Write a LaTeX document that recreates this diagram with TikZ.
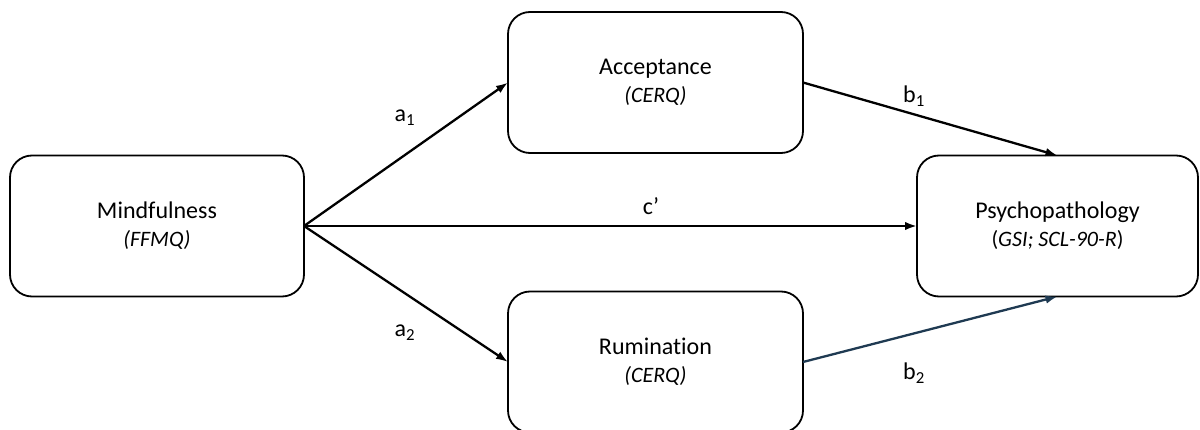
\documentclass[tikz,border=0pt]{standalone}
\usepackage{fontspec}
\setmainfont{Carlito}[Ligatures=NoCommon]
\usetikzlibrary{arrows.meta}
\definecolor{darkblue}{HTML}{1F3A52}
\tikzset{
  varbox/.style={draw=black, line width=1.8pt, rounded corners=22pt, fill=white,
    minimum height=141pt, align=center, inner sep=0pt, outer sep=0pt,
    font=\fontsize{24}{28}\selectfont},
  path/.style={line width=2.3pt, -{Latex[length=12pt,width=8.5pt]}},
  lab/.style={font=\fontsize{24}{28}\selectfont, inner sep=0pt}
}
\newcommand{\subline}[1]{\fontsize{22}{28}\selectfont #1}
\begin{document}
\begin{tikzpicture}[x=1pt,y=-1pt]
\useasboundingbox (0,0) rectangle (1200,430);
\clip (0,0) rectangle (1200,430);
\node[varbox, minimum width=294pt] (mind) at (157,226) {Mindfulness\\ \subline{\textit{(FFMQ)}}};
\node[varbox, minimum width=295pt] (acc) at (655.5,82.5) {Acceptance\\ \subline{\textit{(CERQ)}}};
\node[varbox, minimum width=295pt] (rum) at (655.5,362) {Rumination\\ \subline{\textit{(CERQ)}}};
\node[varbox, minimum width=281pt] (psy) at (1057.5,226) {Psychopathology\\ \subline{(\textit{GSI; SCL-90-R})}};
\draw[path] (mind.east) -- (acc.west);
\draw[path] (mind.east) -- (rum.west);
\draw[path] (mind.east) -- (psy.west);
\draw[path] (acc.east) -- (psy.north);
\draw[path, draw=darkblue, fill=darkblue] (rum.east) -- (psy.south);
\node[lab] (la1) at (405,118) {a\textsubscript{1}};
\node[lab] (la2) at (405,333) {a\textsubscript{2}};
\node[lab] (lc) at (651,206) {c’};
\node[lab] (lb1) at (914,96) {b\textsubscript{1}};
\node[lab] (lb2) at (914,373) {b\textsubscript{2}};
\end{tikzpicture}
\end{document}
